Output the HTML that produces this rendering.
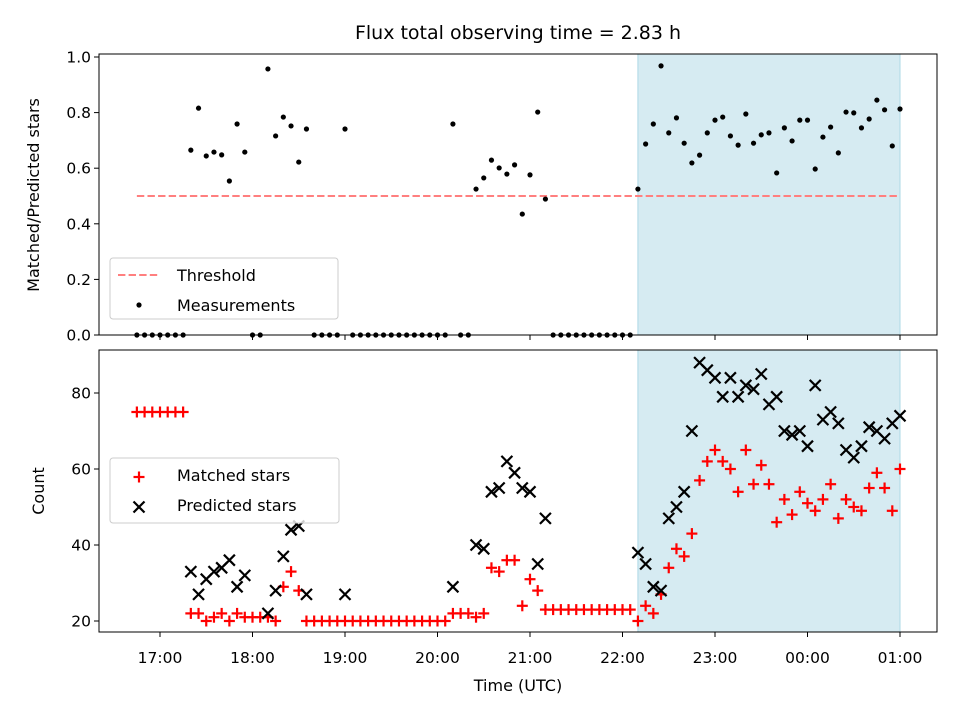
<!DOCTYPE html>
<html><head><meta charset="utf-8"><style>
body{margin:0;background:#fff;}
svg{display:block;font-family:"DejaVu Sans","Liberation Sans",sans-serif;}
</style></head><body>
<svg id="c" width="960" height="720" viewBox="0 0 960 720"></svg>
<script>
const times=[45,50,55,60,65,70,75,80,85,90,95,100,105,110,115,120,125,130,135,140,145,150,155,160,165,170,175,180,185,190,195,200,205,210,215,220,225,230,235,240,245,250,255,260,265,270,275,280,285,290,295,300,305,310,315,320,325,330,335,340,345,350,355,360,365,370,375,380,385,390,395,400,405,410,415,420,425,430,435,440,445,450,455,460,465,470,475,480,485,490,495,500,505,510,515,520,525,530,535,540];
const ratio=[0,0,0,0,0,0,0,.665,.816,.644,.658,.648,.554,.759,.658,0,0,.957,.716,.784,.752,.622,.741,0,0,0,0,.741,0,0,0,0,0,0,0,0,0,0,0,0,0,.759,0,0,.525,.565,.629,.601,.579,.612,.435,.576,.802,.489,0,0,0,0,0,0,0,0,0,0,0,.525,.687,.759,.968,.727,.781,.69,.619,.647,.727,.773,.784,.716,.683,.795,.69,.72,.727,.583,.745,.698,.773,.773,.597,.712,.748,.655,.802,.799,.745,.777,.845,.81,.68,.813];
const matched=[75,75,75,75,75,75,75,22,22,20,21,22,20,22,21,21,21,21,20,29,33,28,20,20,20,20,20,20,20,20,20,20,20,20,20,20,20,20,20,20,20,22,22,22,21,22,34,33,36,36,24,31,28,23,23,23,23,23,23,23,23,23,23,23,23,20,24,22,27,34,39,37,43,57,62,65,62,60,54,65,56,61,56,46,52,48,54,51,49,52,56,47,52,50,49,55,59,55,49,60];
const predicted=[null,null,null,null,null,null,null,33,27,31,33,34,36,29,32,null,null,22,28,37,44,45,27,null,null,null,null,27,null,null,null,null,null,null,null,null,null,null,null,null,null,29,null,null,40,39,54,55,62,59,55,54,35,47,null,null,null,null,null,null,null,null,null,null,null,38,35,29,28,47,50,54,70,88,86,84,79,84,79,82,81,85,77,79,70,69,70,66,82,73,75,72,65,63,66,71,70,68,72,74];
const threshold=0.5;
const spanStart=370, spanEnd=540;
const xTickVals=[60,120,180,240,300,360,420,480,540];
const xTickLabels=["17:00","18:00","19:00","20:00","21:00","22:00","23:00","00:00","01:00"];
const topTicks=[0,0.2,0.4,0.6,0.8,1.0];
const botTicks=[20,40,60,80];

const svg=document.getElementById('c');
const NS='http://www.w3.org/2000/svg';
function mk(t,a,p){const e=document.createElementNS(NS,t);for(const k in a)e.setAttribute(k,a[k]);(p||svg).appendChild(e);return e;}
const X=m=>160+(m-60)*92.5/60;
const YT=v=>335-278*v;
const YB=c=>621-(c-20)*3.8;
const L=99,R=937,T1=54,B1=335,T2=350,B2=632;

let t=mk('text',{x:518,y:39,'text-anchor':'middle','font-size':'19'});t.textContent='Flux total observing time = 2.83 h';



let s1=mk('rect',{x:X(spanStart),y:T1,width:X(spanEnd)-X(spanStart),height:B1-T1,fill:'#add8e6','fill-opacity':0.5,stroke:'#add8e6'});


let s2=mk('rect',{x:X(spanStart),y:T2,width:X(spanEnd)-X(spanStart),height:B2-T2,fill:'#add8e6','fill-opacity':0.5,stroke:'#add8e6'});



let th=mk('line',{x1:X(times[0]),x2:X(times[times.length-1]),y1:YT(threshold),y2:YT(threshold),stroke:'#ff7f7f','stroke-width':2,'stroke-dasharray':'7.4,3.2'});



times.forEach((m,i)=>{
  const d=mk('circle',{cx:X(m),cy:YT(ratio[i]),r:2.6,fill:'#000'});
  
  
});

function plus(x,y,col){const g=mk('g',{stroke:col,'stroke-width':2.2});mk('line',{x1:x-5.5,x2:x+5.5,y1:y,y2:y},g);mk('line',{x1:x,x2:x,y1:y-5.5,y2:y+5.5},g);return g;}
function cross(x,y,col){const g=mk('g',{stroke:col,'stroke-width':2.2});mk('line',{x1:x-5.5,x2:x+5.5,y1:y-5.5,y2:y+5.5},g);mk('line',{x1:x-5.5,x2:x+5.5,y1:y+5.5,y2:y-5.5},g);return g;}
times.forEach((m,i)=>{
  const g=plus(X(m),YB(matched[i]),'#ff0000');
  
  
});
times.forEach((m,i)=>{
  if(predicted[i]===null)return;
  const g=cross(X(m),YB(predicted[i]),'#000');
  
  
});

let f1=mk('rect',{x:L,y:T1,width:R-L,height:B1-T1,fill:'none',stroke:'#000','stroke-width':1});


let f2=mk('rect',{x:L,y:T2,width:R-L,height:B2-T2,fill:'none',stroke:'#000','stroke-width':1});



xTickVals.forEach((m,i)=>{
  mk('line',{x1:X(m),x2:X(m),y1:B1,y2:B1+5,stroke:'#000'});
  mk('line',{x1:X(m),x2:X(m),y1:B2,y2:B2+5,stroke:'#000'});
  const l=mk('text',{x:X(m),y:B2+31,'text-anchor':'middle','font-size':'15.5'});l.textContent=xTickLabels[i];
  
  
});
topTicks.forEach(v=>{
  mk('line',{x1:L-5,x2:L,y1:YT(v),y2:YT(v),stroke:'#000'});
  const l=mk('text',{x:L-8,y:YT(v)+5.5,'text-anchor':'end','font-size':'15.5'});l.textContent=v.toFixed(1);
  
  
});
botTicks.forEach(v=>{
  mk('line',{x1:L-5,x2:L,y1:YB(v),y2:YB(v),stroke:'#000'});
  const l=mk('text',{x:L-8,y:YB(v)+5.5,'text-anchor':'end','font-size':'15.5'});l.textContent=v;
  
  
});
let xl=mk('text',{x:518,y:691,'text-anchor':'middle','font-size':'16'});xl.textContent='Time (UTC)';


let y1=mk('text',{x:0,y:0,'text-anchor':'middle','font-size':'16',transform:'translate(39,195) rotate(-90)'});y1.textContent='Matched/Predicted stars';


let y2=mk('text',{x:0,y:0,'text-anchor':'middle','font-size':'16',transform:'translate(44,491) rotate(-90)'});y2.textContent='Count';



let lg1=mk('g',{});


mk('rect',{x:110,y:258,width:228,height:61,rx:3,fill:'#fff','fill-opacity':0.8,stroke:'#ccc'},lg1);
mk('line',{x1:118,x2:160,y1:275,y2:275,stroke:'#ff7f7f','stroke-width':2,'stroke-dasharray':'7.4,3.2'},lg1);
let a=mk('text',{x:177,y:281,'font-size':'16'},lg1);a.textContent='Threshold';
mk('circle',{cx:139,cy:305,r:2.6,fill:'#000'},lg1);
a=mk('text',{x:177,y:311,'font-size':'16'},lg1);a.textContent='Measurements';

let lg2=mk('g',{});


mk('rect',{x:110,y:458,width:229,height:65,rx:3,fill:'#fff','fill-opacity':0.8,stroke:'#ccc'},lg2);
let p=plus(139,477,'#ff0000');lg2.appendChild(p);
a=mk('text',{x:177,y:481,'font-size':'16'},lg2);a.textContent='Matched stars';
let c=cross(139,507,'#000');lg2.appendChild(c);
a=mk('text',{x:177,y:511,'font-size':'16'},lg2);a.textContent='Predicted stars';
</script>
</body></html>
